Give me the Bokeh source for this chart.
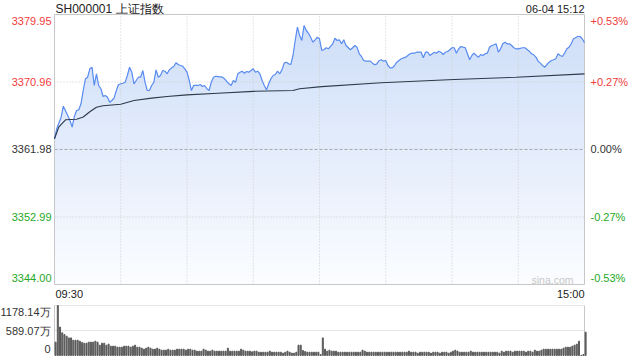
import numpy as np
from bokeh.plotting import figure
from bokeh.models import Range1d, Label
from bokeh.embed import file_html
from bokeh.resources import INLINE

# ---------------- data ----------------
title_text = "SH000001 上证指数"
stamp_text = "06-04 15:12"
prev_close = 3361.98
price_ticks = [3344.00, 3352.99, 3361.98, 3370.96, 3379.95]
time_labels = ["09:30", "15:00"]
grid_minutes = [30, 60, 90, 120, 150, 180, 210]
vol_ticks = [0, 589.07, 1178.14]
vol_tick_labels = ["0", "589.07万", "1178.14万"]

price_minute = [
    0, 1, 3, 4, 6, 7, 8, 9, 10, 11,
    12, 13, 14, 15, 16, 17, 18, 19, 20, 21,
    22, 23, 24, 25, 26, 27, 28, 29, 31, 32,
    33, 34, 35, 36, 37, 38, 39, 40, 41, 42,
    43, 44, 45, 46, 47, 48, 49, 50, 51, 52,
    53, 54, 55, 56, 57, 58, 59, 60, 61, 62,
    63, 65, 66, 67, 68, 69, 70, 71, 72, 73,
    74, 76, 77, 79, 80, 81, 82, 83, 84, 85,
    86, 87, 88, 89, 90, 91, 92, 93, 94, 95,
    96, 97, 98, 99, 100, 101, 102, 103, 104, 105,
    106, 107, 108, 109, 110, 111, 112, 113, 114, 115,
    116, 117, 118, 119, 120, 121, 122, 123, 124, 126,
    127, 128, 129, 130, 131, 132, 134, 135, 136, 137,
    138, 139, 140, 141, 143, 144, 145, 146, 147, 148,
    149, 150, 151, 152, 153, 154, 155, 156, 157, 159,
    160, 161, 162, 163, 164, 165, 166, 167, 168, 169,
    170, 172, 173, 174, 175, 176, 177, 178, 179, 180,
    181, 182, 183, 184, 185, 186, 187, 188, 189, 190,
    191, 192, 193, 194, 195, 196, 197, 198, 199, 200,
    201, 202, 203, 204, 205, 206, 207, 208, 209, 210,
    212, 213, 215, 216, 217, 218, 219, 220, 221, 222,
    223, 224, 225, 226, 227, 228, 229, 230, 231, 232,
    233, 234, 235, 237, 238, 239, 240,
]
price_value = [
    3363.40, 3364.73, 3366.28, 3367.74, 3366.50, 3365.84, 3364.95, 3366.37, 3367.17, 3367.26,
    3368.06, 3369.83, 3371.39, 3371.60, 3372.72, 3372.93, 3370.50, 3372.05, 3370.50, 3370.06,
    3369.03, 3369.17, 3368.94, 3368.27, 3368.50, 3368.85, 3369.83, 3370.63, 3370.80, 3370.94,
    3371.83, 3372.93, 3372.27, 3370.72, 3371.16, 3371.60, 3371.60, 3372.49, 3370.94, 3369.83,
    3369.83, 3370.50, 3370.94, 3372.58, 3371.60, 3371.83, 3372.49, 3372.40, 3372.05, 3372.58,
    3372.85, 3373.03, 3373.52, 3373.29, 3373.16, 3373.07, 3372.72, 3372.27, 3371.20, 3369.83,
    3370.50, 3370.50, 3370.63, 3370.36, 3370.50, 3370.06, 3369.83, 3370.94, 3371.60, 3371.73,
    3371.69, 3371.60, 3371.39, 3370.72, 3370.50, 3371.16, 3370.94, 3372.05, 3372.27, 3372.40,
    3372.13, 3372.36, 3372.27, 3372.49, 3372.72, 3372.27, 3372.40, 3372.05, 3371.16, 3370.50,
    3369.92, 3370.72, 3371.39, 3371.83, 3371.96, 3372.40, 3372.05, 3372.58, 3373.47, 3373.60,
    3373.38, 3373.29, 3374.49, 3376.49, 3378.26, 3377.15, 3376.49, 3378.49, 3377.82, 3377.46,
    3376.93, 3376.26, 3376.58, 3376.93, 3376.71, 3375.16, 3375.25, 3375.52, 3375.38, 3376.05,
    3376.79, 3376.49, 3376.58, 3376.05, 3376.58, 3375.82, 3375.25, 3375.52, 3375.82, 3375.60,
    3374.72, 3374.36, 3373.83, 3373.74, 3373.74, 3373.47, 3373.25, 3373.38, 3373.83, 3373.92,
    3373.74, 3373.83, 3373.16, 3372.85, 3372.85, 3373.16, 3373.60, 3373.83, 3374.05, 3374.27,
    3374.49, 3374.72, 3374.80, 3374.80, 3374.93, 3374.93, 3374.93, 3374.18, 3374.93, 3374.93,
    3374.49, 3374.93, 3374.80, 3375.06, 3374.93, 3374.62, 3374.93, 3375.02, 3375.25, 3375.52,
    3375.52, 3374.80, 3375.38, 3375.69, 3375.60, 3375.52, 3374.72, 3373.92, 3374.49, 3374.80,
    3374.49, 3374.27, 3374.62, 3374.49, 3374.72, 3374.80, 3375.60, 3375.82, 3375.92, 3376.05,
    3374.93, 3375.38, 3376.05, 3376.26, 3376.05, 3376.05, 3375.82, 3375.52, 3375.38, 3375.38,
    3375.52, 3375.52, 3375.06, 3374.72, 3374.58, 3374.27, 3373.74, 3373.47, 3373.16, 3372.93,
    3373.29, 3373.60, 3373.83, 3373.92, 3374.05, 3374.72, 3374.49, 3374.36, 3374.80, 3375.38,
    3375.60, 3376.05, 3376.71, 3377.02, 3377.02, 3376.71, 3376.18,
]

avg_minute = [0, 2, 5, 10, 13, 16, 19, 22, 30, 36, 44, 51, 60, 74, 90, 108, 111, 121, 148, 181, 209, 240]
avg_value = [3363.40, 3365.00, 3365.93, 3366.00, 3366.30, 3367.00, 3367.60, 3367.80, 3368.00, 3368.50,
             3368.81, 3369.03, 3369.25, 3369.47, 3369.72, 3369.83, 3370.06, 3370.35, 3370.86, 3371.30,
             3371.60, 3372.05]

# volume per minute (unit: 万), minutes 0..240
volume = [
    315, 1178.14, 670, 535, 495, 455, 415, 415, 360, 360,
    360, 337, 306, 290, 290, 315, 315, 315, 337, 315,
    243, 290, 290, 243, 267, 220, 220, 220, 196, 196,
    196, 220, 220, 220, 196, 220, 243, 196, 196, 173,
    149, 173, 196, 173, 149, 149, 173, 149, 126, 126,
    126, 149, 126, 126, 126, 149, 149, 149, 149, 126,
    149, 149, 126, 126, 102, 102, 102, 149, 126, 102,
    102, 126, 102, 102, 102, 102, 102, 102, 173, 102,
    102, 102, 102, 102, 149, 126, 102, 102, 102, 86,
    102, 102, 78, 78, 78, 78, 78, 102, 78, 78,
    78, 78, 78, 55, 78, 102, 78, 55, 55, 78,
    243, 243, 118, 94, 78, 78, 78, 78, 78, 78,
    24, 415, 149, 102, 126, 102, 102, 102, 78, 78,
    78, 78, 78, 78, 78, 78, 78, 78, 78, 126,
    102, 78, 78, 78, 78, 78, 78, 78, 78, 78,
    78, 78, 78, 78, 78, 78, 78, 78, 78, 78,
    102, 78, 78, 78, 55, 78, 78, 78, 78, 78,
    55, 78, 78, 78, 55, 78, 78, 78, 55, 78,
    102, 126, 102, 78, 78, 78, 78, 78, 102, 78,
    78, 78, 78, 78, 78, 78, 78, 78, 78, 78,
    78, 55, 102, 78, 102, 102, 102, 78, 102, 102,
    102, 102, 102, 78, 102, 102, 78, 126, 102, 102,
    126, 149, 149, 149, 149, 149, 149, 149, 149, 149,
    173, 196, 196, 196, 220, 243, 267, 337, 5, 24,
    550,
]
volume_minute = list(range(len(volume)))

# ---------------- layout (pixels) ----------------
W, H = 640, 360
PX_L, PX_R = 54, 584          # left / right edge of the plot boxes
PY_T, PY_B = 14, 284          # top / bottom of the price box
VY_T, VY_B = 305, 355         # volume max line / volume zero line

FONT = "Liberation Sans"
RED = "#f03c3c"
GREEN = "#26a826"
DARK = "#333333"
GRID = "#cccccc"
BORDER = "#c8c8c8"

x_lo, x_hi = 0, 240
y_lo, y_hi = price_ticks[0], price_ticks[-1]
v_hi = vol_ticks[-1]

# ranges chosen so the whole canvas is the frame and each panel sits at its pixel box
sx = (PX_R - PX_L) / (x_hi - x_lo)
sy = (PY_B - PY_T) / (y_hi - y_lo)
sv = (VY_B - VY_T) / v_hi
x_range = Range1d(x_lo - PX_L / sx, x_hi + (W - PX_R) / sx)
y_range = Range1d(y_lo - (H - PY_B) / sy, y_hi + PY_T / sy)
vol_range = Range1d(0 - (H - VY_B) / sv, v_hi + VY_T / sv)

p = figure(width=W, height=H, x_range=x_range, y_range=y_range,
           x_axis_type=None, y_axis_type=None,
           toolbar_location=None, output_backend="svg",
           min_border=0, outline_line_color=None,
           background_fill_color="white", border_fill_color="white")
p.extra_y_ranges = {"vol": vol_range}

# gradient fill under the price line (stacked areas, lighter towards the bottom)
pm = np.array(price_minute, dtype=float)
pv = np.array(price_value, dtype=float)
top_rgb = np.array([205, 221, 248])
bot_rgb = np.array([252, 253, 255])
n_bands = 40
levels = np.linspace(y_hi, y_lo, n_bands, endpoint=False)
for L in levels:
    frac = (L - y_lo) / (y_hi - y_lo)
    rgb = bot_rgb + (top_rgb - bot_rgb) * frac
    col = "#%02x%02x%02x" % tuple(int(round(c)) for c in rgb)
    p.varea(x=pm, y1=np.full_like(pv, y_lo), y2=np.minimum(pv, L), fill_color=col)

# price grid
p.segment(x0=grid_minutes, y0=[y_lo] * len(grid_minutes), x1=grid_minutes, y1=[y_hi] * len(grid_minutes),
          line_color=GRID, line_width=1, line_dash="1 2")
mid_ticks = [v for v in price_ticks[1:-1] if v != prev_close]
p.segment(x0=[x_lo] * len(mid_ticks), y0=mid_ticks, x1=[x_hi] * len(mid_ticks), y1=mid_ticks,
          line_color=GRID, line_width=1, line_dash="1 2")
p.segment(x0=[x_lo], y0=[prev_close], x1=[x_hi], y1=[prev_close],
          line_color="#a8a8a8", line_width=1, line_dash="3 2")

# price box border
p.quad(left=[x_lo], right=[x_hi], bottom=[y_lo], top=[y_hi],
       fill_color=None, line_color=BORDER, line_width=1)

p.line(pm, pv, line_color="#5a8cf0", line_width=1.2)
p.line(avg_minute, avg_value, line_color="#2d3a4a", line_width=1.1)

# volume panel
vol_lines = vol_ticks[1:]
p.segment(x0=[x_lo] * len(vol_lines), y0=vol_lines, x1=[x_hi] * len(vol_lines), y1=vol_lines,
          line_color=GRID, line_width=1, line_dash="1 1", y_range_name="vol")
p.segment(x0=[x_lo, x_hi], y0=[0, 0], x1=[x_lo, x_hi], y1=[v_hi, v_hi],
          line_color=BORDER, line_width=1, y_range_name="vol")
p.vbar(x=[m + 0.5 for m in volume_minute], top=volume, width=0.45, color="#5a5a5a",
       y_range_name="vol")


def lab(x, y, text, color=DARK, size="11px", align="left", xo=0, yo=0, rng="default"):
    p.add_layout(Label(x=x, y=y, text=text, text_color=color, text_font=FONT,
                       text_font_size=size, text_align=align, text_baseline="middle",
                       x_offset=xo, y_offset=yo, y_range_name=rng))


for k, v in enumerate(price_ticks):
    col = RED if v > prev_close else (GREEN if v < prev_close else DARK)
    yo = 0
    if k == 0:
        yo = 6.5
    elif k == len(price_ticks) - 1:
        yo = -6.5
    pct = (v - prev_close) / prev_close * 100
    pct_txt = "0.00%" if abs(pct) < 0.005 else ("%+.2f%%" % pct)
    lab(x_lo, v, "%.2f" % v, col, align="right", xo=-3, yo=yo)
    lab(x_hi, v, pct_txt, col, align="left", xo=6, yo=yo)

lab(x_lo, y_hi, title_text, "#222222", size="12px", align="left", xo=1, yo=6)
lab(x_hi, y_hi, stamp_text, "#222222", size="11px", align="right", xo=0, yo=6)
lab(x_lo, y_lo, time_labels[0], "#222222", align="left", xo=1, yo=-9)
lab(x_hi, y_lo, time_labels[1], "#222222", align="right", xo=0, yo=-9)
lab(x_hi, y_lo, "sina.com", "#c8c8c8", size="10.5px", align="right", xo=-11, yo=5)

for k, (v, t) in enumerate(zip(vol_ticks, vol_tick_labels)):
    yo = 0
    if k == 0:
        yo = 7
    elif k == len(vol_ticks) - 1:
        yo = -6
    lab(x_lo, v, t, DARK, align="right", xo=-4, yo=yo, rng="vol")

open("out.html", "w").write(file_html(p, INLINE))
